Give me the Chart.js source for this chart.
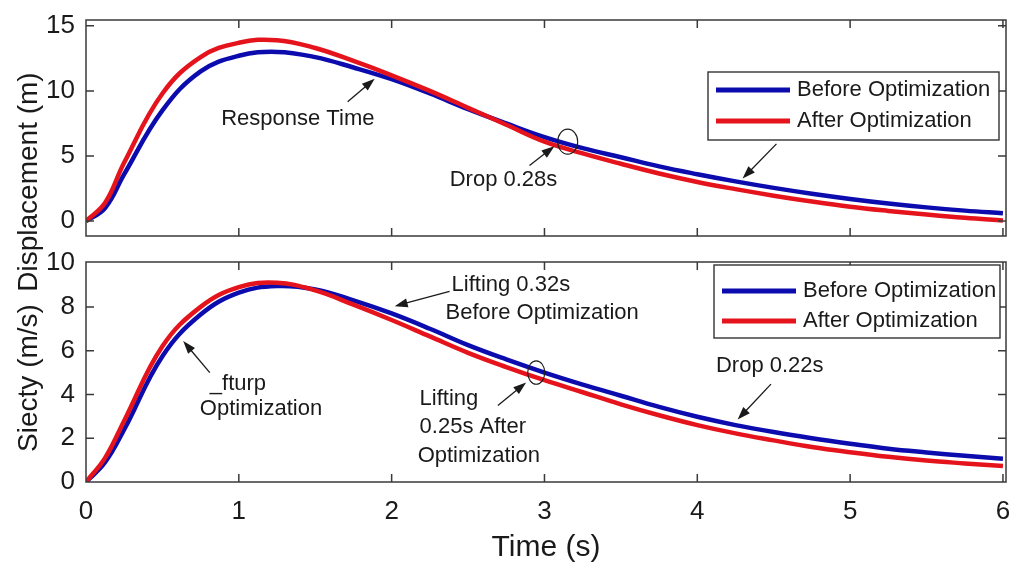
<!DOCTYPE html>
<html>
<head>
<meta charset="utf-8">
<script src="https://cdn.jsdelivr.net/npm/chart.js@4.4.1/dist/chart.umd.min.js"></script>
<style>
html, body { margin: 0; padding: 0; background: #fff; }
#wrap { position: relative; width: 1010px; height: 566px; }
#wrap canvas { position: absolute; left: 0; top: 0; }
</style>
</head>
<body>
<div id="wrap">
  <canvas id="velChart" width="1010" height="566"></canvas>
  <canvas id="dispChart" width="1010" height="566"></canvas>
</div>
<script>
// values
const timeS = [0, 0.125, 0.25, 0.5, 0.75, 1, 1.25, 1.5, 1.75, 2, 2.25, 2.5, 2.75, 3, 3.25, 3.5, 3.75, 4, 4.25, 4.5, 4.75, 5, 5.25, 5.5, 5.75, 6];
const dispBefore = [0, 1.0, 3.6, 8.5, 11.5, 12.7, 13.0, 12.6, 11.8, 10.9, 9.8, 8.6, 7.5, 6.45, 5.6, 4.9, 4.2, 3.6, 3.05, 2.55, 2.1, 1.7, 1.35, 1.05, 0.8, 0.6];
const dispAfter  = [0, 1.4, 4.5, 9.8, 12.6, 13.7, 13.9, 13.3, 12.3, 11.2, 10.0, 8.7, 7.4, 6.1, 5.2, 4.4, 3.65, 3.0, 2.45, 1.95, 1.5, 1.1, 0.78, 0.5, 0.25, 0.05];
const velBefore  = [0, 0.9, 2.4, 5.75, 7.65, 8.65, 8.95, 8.8, 8.3, 7.7, 7.0, 6.25, 5.6, 5.0, 4.45, 3.94, 3.43, 2.98, 2.6, 2.28, 2.0, 1.75, 1.52, 1.35, 1.2, 1.06];
const velAfter   = [0, 1.1, 2.8, 6.2, 8.0, 8.9, 9.1, 8.75, 8.1, 7.4, 6.65, 5.9, 5.25, 4.65, 4.1, 3.55, 3.05, 2.6, 2.22, 1.9, 1.6, 1.36, 1.15, 0.98, 0.85, 0.73];

const timeTicks = [0, 1, 2, 3, 4, 5, 6];
const dispTicks = [0, 5, 10, 15];
const velTicks = [0, 2, 4, 6, 8, 10];
const seriesNames = ['Before Optimization', 'After Optimization'];

const BLUE = '#0c0cae';
const RED = '#e5141c';
const INK = '#1a1a1a';
const FONT = '"Liberation Sans", Arial, Helvetica, sans-serif';

function drawArrow(ctx, x1, y1, x2, y2) {
    const ang = Math.atan2(y2 - y1, x2 - x1);
    const L = 13, W = 4.5;
    ctx.beginPath();
    ctx.moveTo(x1, y1);
    ctx.lineTo(x2 - Math.cos(ang) * L * 0.8, y2 - Math.sin(ang) * L * 0.8);
    ctx.stroke();
    ctx.beginPath();
    ctx.moveTo(x2, y2);
    ctx.lineTo(x2 - L * Math.cos(ang) + W * Math.sin(ang), y2 - L * Math.sin(ang) - W * Math.cos(ang));
    ctx.lineTo(x2 - L * Math.cos(ang) - W * Math.sin(ang), y2 - L * Math.sin(ang) + W * Math.cos(ang));
    ctx.closePath();
    ctx.fill();
}

// frame, inward ticks, legend box, y title and notes
const decor = {
    id: 'decor',
    afterDatasetsDraw(chart, args, opts) {
        const ctx = chart.ctx;
        const a = chart.chartArea;
        const xs = chart.scales.x, ys = chart.scales.y;
        ctx.save();

        ctx.strokeStyle = '#3a3a3a';
        ctx.lineWidth = 1.5;
        ctx.strokeRect(a.left, a.top, a.right - a.left, a.bottom - a.top);
        const tl = 8;
        ctx.beginPath();
        timeTicks.forEach(v => {
            const px = xs.getPixelForValue(v);
            if (px <= a.left + 2 || px >= a.right - 2) return;
            ctx.moveTo(px, a.bottom); ctx.lineTo(px, a.bottom - tl);
            ctx.moveTo(px, a.top); ctx.lineTo(px, a.top + tl);
        });
        opts.yTicks.forEach(v => {
            const py = ys.getPixelForValue(v);
            if (py <= a.top + 2 || py >= a.bottom - 2) return;
            ctx.moveTo(a.left, py); ctx.lineTo(a.left + tl, py);
            ctx.moveTo(a.right, py); ctx.lineTo(a.right - tl, py);
        });
        ctx.stroke();

        // notes
        ctx.fillStyle = INK;
        ctx.strokeStyle = INK;
        ctx.font = '22px ' + FONT;
        ctx.textBaseline = 'middle';
        (opts.texts || []).forEach(n => {
            ctx.textAlign = n.align || 'left';
            ctx.fillText(n.text, xs.getPixelForValue(n.t), ys.getPixelForValue(n.v));
        });
        ctx.lineWidth = 1.3;
        (opts.arrows || []).forEach(r => {
            drawArrow(ctx, xs.getPixelForValue(r.from[0]), ys.getPixelForValue(r.from[1]),
                xs.getPixelForValue(r.to[0]), ys.getPixelForValue(r.to[1]));
        });
        ctx.lineWidth = 1.1;
        (opts.circles || []).forEach(c => {
            ctx.beginPath();
            ctx.ellipse(xs.getPixelForValue(c.t), ys.getPixelForValue(c.v), c.rx, c.ry, 0, 0, Math.PI * 2);
            ctx.stroke();
        });

        // legend
        const lg = opts.legend;
        ctx.fillStyle = '#fff';
        ctx.fillRect(lg.left, lg.top, lg.width, lg.height);
        ctx.strokeStyle = '#333';
        ctx.lineWidth = 1.4;
        ctx.strokeRect(lg.left, lg.top, lg.width, lg.height);
        chart.data.datasets.forEach((ds, i) => {
            const y = lg.rows[i];
            ctx.strokeStyle = ds.borderColor;
            ctx.lineWidth = 5;
            ctx.beginPath();
            ctx.moveTo(lg.left + 8, y);
            ctx.lineTo(lg.left + 82, y);
            ctx.stroke();
            ctx.fillStyle = INK;
            ctx.textAlign = 'left';
            ctx.font = '22px ' + FONT;
            ctx.fillText(ds.label, lg.left + 89, y);
        });

        // y title
        const yt = opts.yTitle;
        ctx.save();
        ctx.translate(yt.x, yt.y);
        ctx.rotate(-Math.PI / 2);
        ctx.fillStyle = INK;
        ctx.font = '28px ' + FONT;
        ctx.textAlign = 'center';
        ctx.textBaseline = 'alphabetic';
        ctx.fillText(yt.text, 0, 0);
        ctx.restore();

        ctx.restore();
    }
};

function makeChart(id, before, after, yTicks, yMin, yMax, padding, showX, decorOpts) {
    const canvas = document.getElementById(id);
    const ctx = canvas.getContext('2d');
    decorOpts.yTicks = yTicks;
    return new Chart(ctx, {
        type: 'line',
        data: {
            datasets: [{
                label: seriesNames[0],
                data: timeS.map((t, i) => ({ x: t, y: before[i] })),
                borderColor: BLUE,
                order: 1
            }, {
                label: seriesNames[1],
                data: timeS.map((t, i) => ({ x: t, y: after[i] })),
                borderColor: RED,
                order: 0
            }]
        },
        options: {
            responsive: false,
            animation: false,
            devicePixelRatio: 1,
            layout: { padding: padding },
            elements: {
                point: { radius: 0 },
                line: { borderWidth: 4.5, fill: false, tension: 0.4 }
            },
            plugins: {
                legend: { display: false },
                tooltip: { enabled: false },
                decor: decorOpts
            },
            scales: {
                x: {
                    type: 'linear',
                    min: 0,
                    max: 6.02,
                    display: showX,
                    grid: { display: false, drawTicks: false },
                    border: { display: false },
                    ticks: { padding: 14, color: INK, font: { size: 26, family: FONT }, maxRotation: 0 },
                    afterBuildTicks: s => { s.ticks = timeTicks.map(v => ({ value: v })); },
                    afterFit: s => { s.height = showX ? 84 : 0; s.paddingLeft = 0; s.paddingRight = 0; },
                    title: {
                        display: true,
                        text: 'Time (s)',
                        color: INK,
                        font: { size: 30, family: FONT },
                        padding: { top: 0, bottom: 0 }
                    }
                },
                y: {
                    min: yMin,
                    max: yMax,
                    grid: { display: false, drawTicks: false },
                    border: { display: false },
                    ticks: { padding: 11, color: INK, font: { size: 26, family: FONT } },
                    afterBuildTicks: s => { s.ticks = yTicks.map(v => ({ value: v })); },
                    afterFit: s => { s.width = 86; s.paddingTop = 0; s.paddingBottom = 0; }
                }
            }
        },
        plugins: [decor]
    });
}

makeChart('dispChart', dispBefore, dispAfter, dispTicks, -1.15, 15.45,
    { top: 20, right: 4, bottom: 330, left: 0 }, false, {
        yTitle: { text: 'Displacement (m)', x: 37, y: 182 },
        legend: { left: 708, top: 72, width: 291, height: 68, rows: [90, 121] },
        texts: [
            { text: 'Response Time', t: 1.386, v: 7.86, align: 'center' },
            { text: 'Drop 0.28s', t: 2.732, v: 3.13, align: 'center' }
        ],
        arrows: [
            { from: [1.712, 9.16], to: [1.889, 10.94] },
            { from: [2.902, 4.27], to: [3.065, 5.75] },
            { from: [4.518, 5.93], to: [4.296, 3.26] }
        ],
        circles: [{ t: 3.152, v: 6.1, rx: 10, ry: 12.5 }]
    });

makeChart('velChart', velBefore, velAfter, velTicks, 0, 10.05,
    { top: 262, right: 4, bottom: 0, left: 0 }, true, {
        yTitle: { text: 'Siecty (m/s)', x: 37, y: 378 },
        legend: { left: 714, top: 265, width: 286, height: 73, rows: [291, 321] },
        texts: [
            { text: 'Lifting 0.32s', t: 2.392, v: 9.02 },
            { text: 'Before Optimization', t: 2.353, v: 7.73 },
            { text: 'Lifting', t: 2.183, v: 3.79 },
            { text: '0.25s After', t: 2.183, v: 2.5 },
            { text: 'Optimization', t: 2.17, v: 1.21 },
            { text: 'Drop 0.22s', t: 4.474, v: 5.3, align: 'center' },
            { text: '_fturp', t: 0.81, v: 4.47 },
            { text: 'Optimization', t: 0.745, v: 3.34 }
        ],
        arrows: [
            { from: [2.379, 8.71], to: [2.02, 8.03] },
            { from: [2.695, 3.49], to: [2.88, 4.55] },
            { from: [4.482, 4.47], to: [4.264, 2.85] },
            { from: [0.81, 5.0], to: [0.636, 6.44] }
        ],
        circles: [{ t: 2.946, v: 5.0, rx: 8.5, ry: 11.7 }]
    });
</script>
</body>
</html>
